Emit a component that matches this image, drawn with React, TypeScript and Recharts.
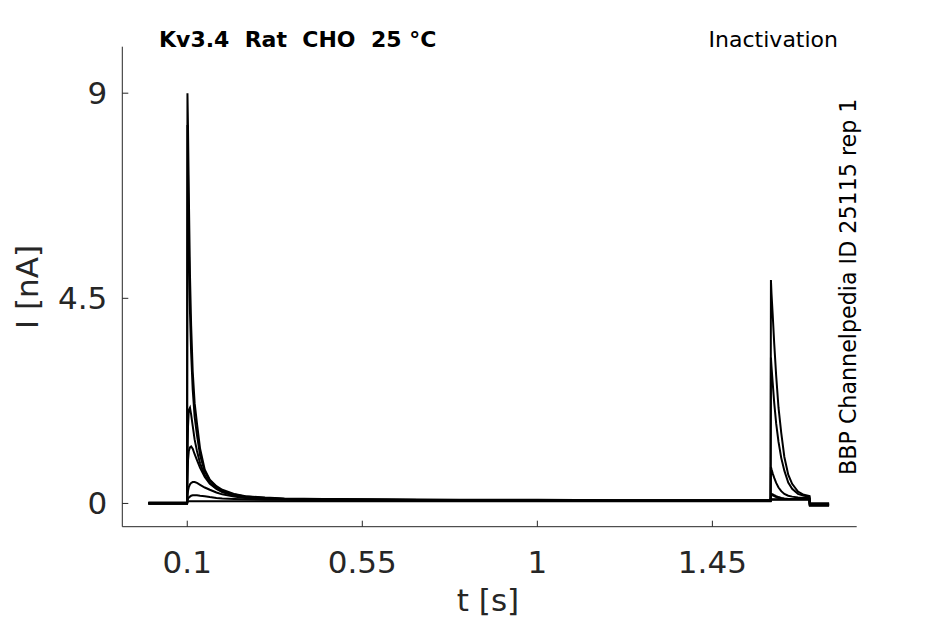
import { LineChart, Line, XAxis, YAxis } from 'recharts';

// sample times [s], denser around the voltage steps
const times = [
  0, 0.0995, 0.1005, 0.102, 0.104, 0.107, 0.11, 0.114, 0.119, 0.125,
  0.133, 0.145, 0.158, 0.175, 0.19, 0.22, 0.25, 0.3, 0.35, 0.45,
  0.6, 0.8, 1.0, 1.2, 1.4, 1.5995, 1.6005, 1.602, 1.605, 1.609,
  1.614, 1.62, 1.627, 1.635, 1.645, 1.655, 1.67, 1.685, 1.6995, 1.7005,
  1.75,
];

// currents [nA], one array per sweep
const sweepA = [
  0, 0, 9.0, 8.2, 6.8, 5.0, 3.9, 2.9, 2.2, 1.75,
  1.2, 0.74, 0.52, 0.38, 0.3, 0.21, 0.16, 0.13, 0.11, 0.1,
  0.09, 0.08, 0.08, 0.07, 0.07, 0.07, 0.08, 0.08, 0.08, 0.08,
  0.08, 0.08, 0.08, 0.08, 0.08, 0.08, 0.08, 0.08, 0.08, -0.05,
  -0.05,
];
const sweepB = [
  0, 0, 8.3, 7.2, 5.7, 4.2, 3.3, 2.5, 1.9, 1.5,
  1.05, 0.7, 0.5, 0.36, 0.28, 0.2, 0.15, 0.12, 0.1, 0.09,
  0.08, 0.07, 0.07, 0.06, 0.06, 0.06, 0.1, 0.1, 0.09, 0.09,
  0.09, 0.09, 0.09, 0.09, 0.09, 0.09, 0.09, 0.09, 0.09, -0.04,
  -0.04,
];
const sweepC = [
  0.02, 0.02, 0.9, 1.7, 2.05, 2.1, 1.95, 1.7, 1.4, 1.15,
  0.88, 0.62, 0.45, 0.33, 0.26, 0.18, 0.14, 0.11, 0.1, 0.09,
  0.08, 0.07, 0.07, 0.07, 0.07, 0.07, 0.12, 0.2, 0.18, 0.16,
  0.14, 0.12, 0.11, 0.1, 0.1, 0.1, 0.1, 0.1, 0.1, -0.03,
  -0.03,
];
const sweepD = [
  0.01, 0.01, 0.5, 0.95, 1.15, 1.23, 1.25, 1.2, 1.08, 0.95,
  0.78, 0.58, 0.43, 0.32, 0.25, 0.17, 0.13, 0.1, 0.09, 0.08,
  0.07, 0.07, 0.07, 0.06, 0.06, 0.06, 0.15, 0.2, 0.2, 0.18,
  0.16, 0.14, 0.12, 0.11, 0.1, 0.1, 0.1, 0.1, 0.1, -0.03,
  -0.03,
];
const sweepE = [
  0, 0, 0.15, 0.28, 0.36, 0.42, 0.45, 0.47, 0.47, 0.45,
  0.41, 0.35, 0.3, 0.24, 0.2, 0.15, 0.12, 0.1, 0.09, 0.08,
  0.07, 0.07, 0.06, 0.06, 0.06, 0.06, 0.8, 0.75, 0.66, 0.56,
  0.45, 0.35, 0.27, 0.21, 0.17, 0.15, 0.13, 0.12, 0.12, -0.02,
  -0.02,
];
const sweepF = [
  0, 0, 0.06, 0.1, 0.13, 0.15, 0.17, 0.18, 0.18, 0.18,
  0.17, 0.16, 0.14, 0.12, 0.11, 0.1, 0.09, 0.08, 0.08, 0.07,
  0.07, 0.06, 0.06, 0.06, 0.06, 0.06, 3.2, 3.0, 2.65, 2.2,
  1.75, 1.35, 1.0, 0.72, 0.46, 0.32, 0.21, 0.17, 0.15, 0,
  0,
];
const sweepG = [
  0, 0, 0.03, 0.04, 0.05, 0.05, 0.05, 0.05, 0.05, 0.05,
  0.05, 0.05, 0.05, 0.05, 0.05, 0.05, 0.05, 0.05, 0.05, 0.05,
  0.05, 0.05, 0.05, 0.05, 0.05, 0.05, 4.9, 4.6, 4.15, 3.5,
  2.8, 2.1, 1.55, 1.02, 0.63, 0.43, 0.26, 0.19, 0.16, 0,
  0,
];

const sweeps = [sweepA, sweepB, sweepC, sweepD, sweepE, sweepF, sweepG];
const sweepKeys = ['a', 'b', 'c', 'd', 'e', 'f', 'g'];

const xTicks = [0.1, 0.55, 1, 1.45];
const yTicks = [0, 4.5, 9];

const title = 'Kv3.4  Rat  CHO  25 °C';
const protocol = 'Inactivation';
const source = 'BBP Channelpedia ID 25115 rep 1';

const data = times.map((t, i) => {
  const row: Record<string, number> = { t };
  sweeps.forEach((s, k) => {
    row[sweepKeys[k]] = s[i];
  });
  return row;
});

const axisColor = '#262626';
const font = 'DejaVu Sans, sans-serif';

export default function App() {
  return (
    <div style={{ position: 'absolute', left: 0, top: 0, width: 945, height: 624, background: '#fff' }}>
      <LineChart
        width={945}
        height={624}
        data={data}
        margin={{ top: 46.7, right: 88.3, bottom: 57.3, left: 62.3 }}
      >
        <XAxis
          dataKey="t"
          type="number"
          domain={[-0.067, 1.821]}
          ticks={xTicks}
          allowDataOverflow
          height={40}
          tickSize={-6}
          tickMargin={30}
          stroke={axisColor}
          tick={{ fill: axisColor, fontSize: 31, fontFamily: font }}
          tickFormatter={(v: number) => String(v)}
        />
        <YAxis
          type="number"
          domain={[-0.51, 10.02]}
          ticks={yTicks}
          allowDataOverflow
          width={60}
          tickSize={-6}
          tickMargin={21}
          stroke={axisColor}
          tick={{ fill: axisColor, fontSize: 31, fontFamily: font }}
          tickFormatter={(v: number) => String(v)}
        />
        {sweepKeys.map((k) => (
          <Line
            key={k}
            dataKey={k}
            type="linear"
            stroke="#000"
            strokeWidth={2}
            dot={false}
            isAnimationActive={false}
          />
        ))}
      </LineChart>
      <svg
        width={945}
        height={624}
        style={{ position: 'absolute', left: 0, top: 0, pointerEvents: 'none' }}
      >
        <text
          x={159}
          y={47}
          fontFamily={font}
          fontWeight="bold"
          fontSize={22}
          fill="#000"
          style={{ whiteSpace: 'pre' }}
        >
          {title}
        </text>
        <text x={838} y={47} textAnchor="end" fontFamily={font} fontSize={22} fill="#000">
          {protocol}
        </text>
        <text
          x={856}
          y={475}
          transform="rotate(-90 856 475)"
          fontFamily={font}
          fontSize={22.2}
          fill="#000"
        >
          {source}
        </text>
        <text x={488} y={611} textAnchor="middle" fontFamily={font} fontSize={31} fill={axisColor}>
          t [s]
        </text>
        <text
          x={38}
          y={287}
          transform="rotate(-90 38 287)"
          textAnchor="middle"
          fontFamily={font}
          fontSize={31}
          fill={axisColor}
        >
          I [nA]
        </text>
      </svg>
    </div>
  );
}
